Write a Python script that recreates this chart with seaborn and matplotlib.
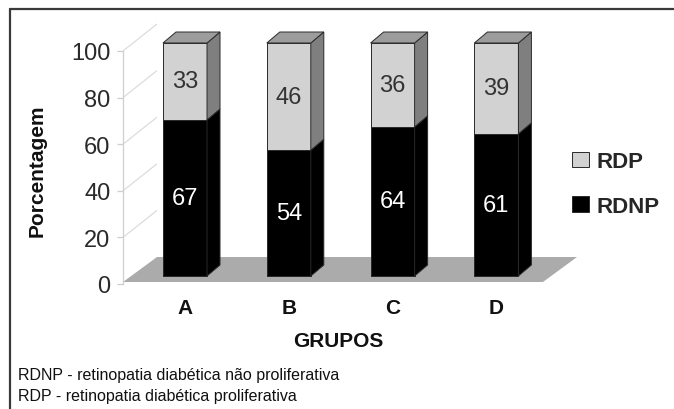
import matplotlib
matplotlib.use("Agg")
import matplotlib.pyplot as plt
import matplotlib.transforms as mtransforms
from matplotlib.patches import Polygon, Patch
import seaborn as sns
import pandas as pd

# Data: percentage of each retinopathy type per group
grupos = ["A", "B", "C", "D"]
rdnp = [67, 54, 64, 61]
rdp = [33, 46, 36, 39]
yticks = [0, 20, 40, 60, 80, 100]

df = pd.DataFrame({"grupo": grupos, "RDNP": rdnp, "RDP": rdp})
df["total"] = df["RDNP"] + df["RDP"]

sns.set_theme(style="white")
plt.rcParams["font.family"] = ["Liberation Sans", "DejaVu Sans"]

W, H, DPI = 674, 410, 100
fig = plt.figure(figsize=(W / DPI, H / DPI), dpi=DPI)

# axes box in pixels (from top-left corner of the figure)
AX_L, AX_R, AX_T, AX_B = 100, 620, 15, 295
ax = fig.add_axes([AX_L / W, (H - AX_B) / H, (AX_R - AX_L) / W, (AX_B - AX_T) / H])

# pixel scales of the data axes
X0_PX, X_STEP = 185.0, 103.8      # category centre / spacing
Y0_PX, Y_STEP = 285.0, 2.33       # value 0 row / pixels per percent


def set_limits():
    ax.set_xlim((AX_L - X0_PX) / X_STEP, (AX_R - X0_PX) / X_STEP)
    ax.set_ylim((Y0_PX - AX_B) / Y_STEP, (Y0_PX - AX_T) / Y_STEP)


def px2x(px):
    return (px - X0_PX) / X_STEP


def py2v(py):
    return (Y0_PX - py) / Y_STEP


LIGHT = "#d2d2d2"
SIDE = "#7f7f7f"
TOP = "#9c9c9c"
FLOOR = "#ababab"
EDGE = "#2a2a2a"
BAR_W = 0.424

# front faces of the stacked bars
sns.barplot(data=df, x="grupo", y="total", color=LIGHT, saturation=1,
            width=BAR_W, edgecolor=EDGE, linewidth=0.7, errorbar=None, ax=ax)
sns.barplot(data=df, x="grupo", y="RDNP", color="black", saturation=1,
            width=BAR_W, edgecolor=EDGE, linewidth=0.7, errorbar=None, ax=ax)
set_limits()

# bars stand a little behind the front edge of the floor
lift = mtransforms.Affine2D().translate(0, 8)
bar_tr = ax.transData + lift
for p in ax.patches:
    p.set_transform(bar_tr)
    p.set_zorder(2)

# floor of the 3-D box
ax.add_patch(Polygon([(px2x(123), py2v(283)), (px2x(543), py2v(283)),
                      (px2x(577), py2v(258)), (px2x(157), py2v(258))],
                     closed=True, facecolor=FLOOR, edgecolor="none", zorder=0.6))

# side wall grid lines
WALL_DX, WALL_DY = 34 / X_STEP, 27 / Y_STEP
for v in yticks[1:]:
    ax.plot([px2x(123), px2x(123) + WALL_DX], [v, v + WALL_DY],
            color="#dcdcdc", lw=0.9, zorder=0.4, solid_capstyle="butt")

# depth faces
DX, DY = 13 / X_STEP, 11 / Y_STEP
for i, (lo, hi) in enumerate(zip(rdnp, rdp)):
    xl, xr = i - BAR_W / 2, i + BAR_W / 2
    tot = lo + hi
    faces = [
        ([(xr, 0), (xr, lo), (xr + DX, lo + DY), (xr + DX, DY)], "black"),
        ([(xr, lo), (xr, tot), (xr + DX, tot + DY), (xr + DX, lo + DY)], SIDE),
        ([(xl, tot), (xr, tot), (xr + DX, tot + DY), (xl + DX, tot + DY)], TOP),
    ]
    for verts, fc in faces:
        ax.add_patch(Polygon(verts, closed=True, facecolor=fc, edgecolor=EDGE,
                             linewidth=0.7, transform=bar_tr, zorder=2))
    ax.text(i, lo / 2, str(lo), color="white", fontsize=17, ha="center",
            va="center", transform=bar_tr, zorder=3)
    ax.text(i, lo + hi / 2, str(hi), color="#333333", fontsize=17, ha="center",
            va="center", transform=bar_tr, zorder=3)

# axes styling
for side in ["top", "right", "bottom"]:
    ax.spines[side].set_visible(False)
ax.spines["left"].set_position(("data", px2x(123)))
ax.spines["left"].set_bounds(0, 100)
ax.spines["left"].set_color("#cfcfcf")
ax.spines["left"].set_linewidth(0.9)
ax.set_yticks(yticks)
ax.set_yticklabels([str(t) for t in yticks], fontsize=17, color="#2a2a2a")
ax.tick_params(axis="y", left=True, length=4, width=0.9, color="#cfcfcf",
               pad=5)
ax.set_xticks(range(len(grupos)))
ax.set_xticklabels(grupos, fontsize=15, fontweight="bold", color="#111111")
ax.tick_params(axis="x", bottom=False, pad=-3)
ax.grid(False)
set_limits()

ax.set_xlabel("GRUPOS", fontsize=15, fontweight="bold", color="#111111")
ax.xaxis.set_label_coords((338 - AX_L) / (AX_R - AX_L), (AX_B - 332) / (AX_B - AX_T))
ax.set_ylabel("Porcentagem", fontsize=15, fontweight="bold", color="#111111")
ax.yaxis.set_label_coords((47 - AX_L) / (AX_R - AX_L), (AX_B - 171) / (AX_B - AX_T))

handles = [Patch(facecolor=LIGHT, edgecolor=EDGE, linewidth=0.7),
           Patch(facecolor="black", edgecolor=EDGE, linewidth=0.7)]
fig.legend(handles, ["RDP", "RDNP"], loc="center left",
           bbox_to_anchor=(572 / W, 1 - 185 / H), frameon=False,
           prop={"size": 16, "weight": "bold"}, handlelength=0.75,
           handleheight=0.7, handletextpad=0.35, labelspacing=1.05,
           borderaxespad=0, borderpad=0)

# notes under the chart
notes = ["RDNP - retinopatia diabética não proliferativa",
         "RDP - retinopatia diabética proliferativa"]
for k, line in enumerate(notes):
    fig.text(18 / W, 1 - (376 + 21 * k) / H, line, fontsize=11.5,
             family=["Liberation Sans Narrow", "Liberation Sans"],
             ha="left", va="center", color="#111111")

# frame lines at the top and left of the figure
fig.add_artist(plt.Line2D([9.5 / W, 9.5 / W], [0, 1 - 9.5 / H],
                          transform=fig.transFigure, color="#3a3a3a", lw=1.6))
fig.add_artist(plt.Line2D([9.5 / W, 1], [1 - 9.5 / H, 1 - 9.5 / H],
                          transform=fig.transFigure, color="#3a3a3a", lw=1.6))

fig.savefig("out.png", dpi=DPI)
